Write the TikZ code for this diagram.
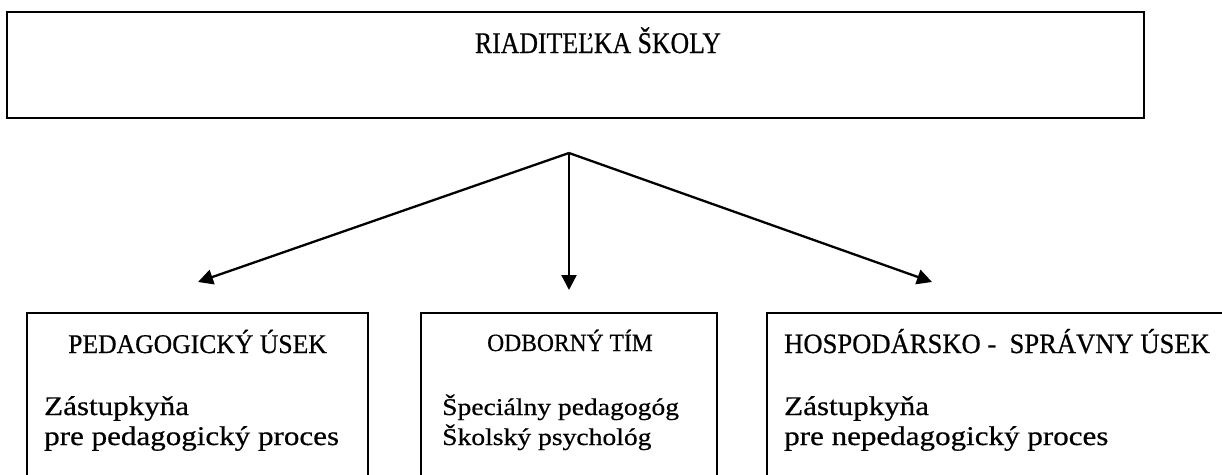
\documentclass[tikz,border=0pt]{standalone}
\usepackage{fontspec}
\setmainfont[FakeStretch=1.15,FakeBold=0.6]{Liberation Serif}
\newfontfamily\capsfont[FakeStretch=0.95,FakeBold=0.6]{Liberation Serif}
\newfontfamily\titlefont[FakeStretch=0.86,FakeBold=0.6]{Liberation Serif}
\usetikzlibrary{arrows.meta}
\begin{document}
\begin{tikzpicture}[x=1pt,y=-1pt,
  box/.style={draw, line width=1.4pt, inner sep=0pt, rectangle},
  topbox/.style={draw, line width=2.3pt, inner sep=0pt, rectangle},
  txt/.style={anchor=base west, inner sep=0pt, font=\fontsize{27}{32}\selectfont},
  txts/.style={anchor=base west, inner sep=0pt, font=\fontsize{24}{29}\selectfont},
  head/.style={anchor=base west, inner sep=0pt, font=\capsfont\fontsize{27}{32}\selectfont},
  arr/.style={line width=2.3pt, -{Triangle[length=15pt,width=15pt]}}]
\useasboundingbox (0,0) rectangle (1222,474);
% boxes
\node[topbox, minimum width=1137pt, minimum height=106pt] (top) at (575.5,65) {};
\node[box, minimum width=341pt, minimum height=182pt] (ped) at (197.5,404) {};
\node[box, minimum width=296pt, minimum height=182pt] (odb) at (569,404) {};
\node[box, minimum width=473pt, minimum height=182pt] (hos) at (1003.5,404) {};
% texts
\node[anchor=base, inner sep=0pt, font=\titlefont\fontsize{30}{36}\selectfont] (title) at (598,53) {RIADITEĽKA ŠKOLY};
\node[head] (pedh) at (68,353) {PEDAGOGICKÝ ÚSEK};
\node[txt] (ped1) at (44,415) {Zástupkyňa};
\node[txt] (ped2) at (44,445) {pre pedagogický proces};
\node[head, font=\capsfont\fontsize{24.8}{30}\selectfont] (odbh) at (487,351) {ODBORNÝ TÍM};
\node[txts] (odb1) at (442,415) {Špeciálny pedagogóg};
\node[txts] (odb2) at (442,445) {Školský psychológ};
\node[head, font=\capsfont\fontsize{28}{33}\selectfont] (hosh) at (784,353) {HOSPODÁRSKO -\ \ SPRÁVNY ÚSEK};
\node[txt] (hos1) at (784,415) {Zástupkyňa};
\node[txt] (hos2) at (784,445) {pre nepedagogický proces};
% connectors
\coordinate (j) at (569,153);
\coordinate (tl) at (198,282);
\coordinate (tm) at (569,290);
\coordinate (tr) at (932,282);
\draw[arr] (j) -- (tl);
\draw[arr] (j) -- (tm);
\draw[arr] (j) -- (tr);
\end{tikzpicture}
\end{document}
